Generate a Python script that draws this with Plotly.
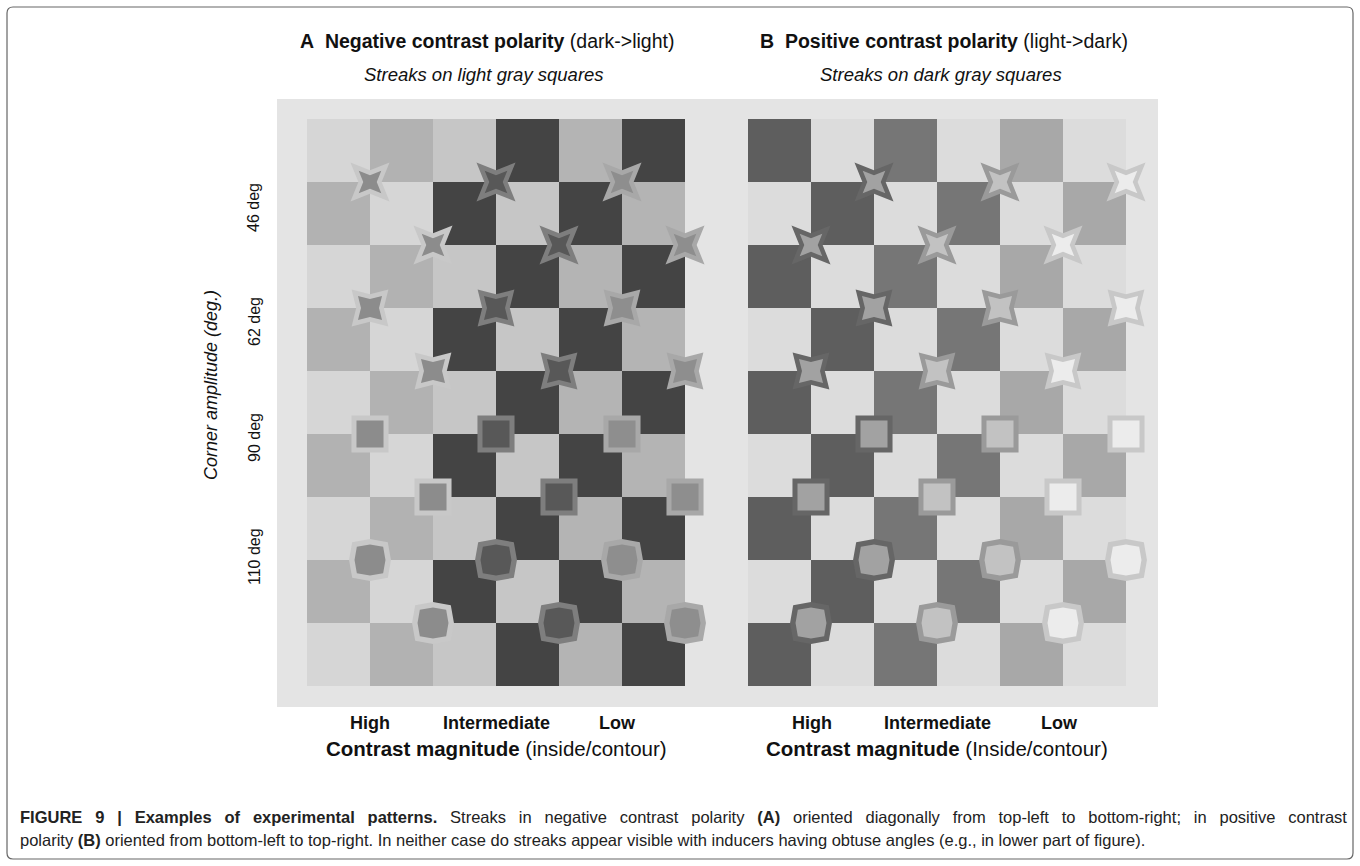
import math
import plotly.graph_objects as go

W, H = 1360, 866

# ---------------- data ----------------
n_rows = 9
n_cols = 6
pair_labels = ["High", "Intermediate", "Low"]
corner_deg_labels = ["46 deg", "62 deg", "90 deg", "110 deg"]

# Board gray levels per contrast pair (cols 2k, 2k+1)
A_even = [214, 198, 180]     # squares where (row+col) even
A_odd = [178, 68, 68]
B_even = [94, 118, 168]
B_odd = [220, 220, 220]

# Inducer (marker) gray levels per pair
A_outer = [200, 126, 168]
A_inner = [140, 88, 142]
B_outer = [102, 154, 200]
B_inner = [162, 194, 236]

# Corner amplitude of inducers per boundary row 1..8
row_corner = [46, 46, 62, 62, 90, 90, 110, 110]
# column-edge positions of inducers (odd boundary rows / even boundary rows)
A_edges_odd = [1, 3, 5]
A_edges_even = [2, 4, 6]
B_edges_odd = [2, 4, 6]
B_edges_even = [1, 3, 5]

caption_line1 = ("<b>FIGURE 9 | Examples of experimental patterns.</b> Streaks in negative contrast polarity "
                 "<b>(A)</b> oriented diagonally from top-left to bottom-right; in positive contrast")
caption_line2 = ("polarity <b>(B)</b> oriented from bottom-left to top-right. In neither case do streaks appear "
                 "visible with inducers having obtuse angles (e.g., in lower part of figure).")

# ---------------- geometry / style ----------------
CELL = 63.0          # px per data unit
X0_PX = 307          # left edge of board A (px)
Y0_PX = 119          # top edge of boards (px)
BOX = (277, 99, 1158, 707)  # outer gray box px
B_OFFSET = 7         # board B starts 7 cells right of A
# outer tip radius, inner tip radius (px) per corner amplitude
SIZES = {46: (27.6, 16.0), 62: (26.0, 17.0), 90: (26.2, 19.1), 110: (25.2, 18.6)}


def gray(v):
    return "rgb(%d,%d,%d)" % (v, v, v)


def board(even, odd):
    z = []
    for r in range(n_rows):
        row = []
        for c in range(n_cols):
            p = c // 2
            row.append(even[p] if (r + c) % 2 == 0 else odd[p])
        z.append(row)
    return z


def polygon(cx, cy, R_px, alpha):
    t = math.tan(math.radians(alpha) / 2)
    r_px = t * R_px / (math.sqrt(0.5) * (1 + t))
    xs, ys = [], []
    for k in range(4):
        a_tip = math.radians(45 + 90 * k)
        a_in = math.radians(90 + 90 * k)
        xs += [cx + R_px * math.cos(a_tip) / CELL, cx + r_px * math.cos(a_in) / CELL]
        ys += [cy + R_px * math.sin(a_tip) / CELL, cy + r_px * math.sin(a_in) / CELL]
    xs.append(xs[0]); ys.append(ys[0])
    return xs, ys


fig = go.Figure()

xcent = [c + 0.5 for c in range(n_cols)]
ycent = [r + 0.5 for r in range(n_rows)]
for z, off in ((board(A_even, A_odd), 0), (board(B_even, B_odd), B_OFFSET)):
    fig.add_trace(go.Heatmap(
        z=z, x=[x + off for x in xcent], y=ycent,
        colorscale=[[0, "rgb(0,0,0)"], [1, "rgb(255,255,255)"]],
        zmin=0, zmax=255, showscale=False, hoverinfo="skip"))

panels = [
    (0, A_edges_odd, A_edges_even, A_outer, A_inner),
    (B_OFFSET, B_edges_odd, B_edges_even, B_outer, B_inner),
]
for off, e_odd, e_even, outer, inner in panels:
    for layer in (0, 1):
        cols = outer if layer == 0 else inner
        for p in range(3):
            xs_all, ys_all = [], []
            for b, ang in enumerate(row_corner, start=1):
                ex = (e_odd if b % 2 == 1 else e_even)[p] + off
                R = SIZES[ang][layer]
                xs, ys = polygon(ex, b, R, ang)
                xs_all += xs + [None]
                ys_all += ys + [None]
            fig.add_trace(go.Scatter(
                x=xs_all, y=ys_all, mode="lines", fill="toself",
                fillcolor=gray(cols[p]), line=dict(width=0, color=gray(cols[p])),
                hoverinfo="skip", showlegend=False))

# axis ranges derived from the pixel layout of the box
x_lo = (BOX[0] - X0_PX) / CELL
x_hi = (BOX[2] - X0_PX) / CELL
y_lo = (BOX[1] - Y0_PX) / CELL
y_hi = (BOX[3] - Y0_PX) / CELL

fig.update_layout(
    width=W, height=H, margin=dict(l=0, r=0, t=0, b=0),
    paper_bgcolor="white", plot_bgcolor=gray(228), showlegend=False,
    xaxis=dict(domain=[BOX[0] / W, BOX[2] / W], range=[x_lo, x_hi], visible=False, fixedrange=True),
    yaxis=dict(domain=[1 - BOX[3] / H, 1 - BOX[1] / H], range=[y_hi, y_lo], visible=False, fixedrange=True),
)

FONT = "Liberation Sans, Arial, sans-serif"


def ann(text, x, y, size, xanchor="center", angle=0, family=FONT, color="#111"):
    fig.add_annotation(text=text, x=x / W, y=1 - y / H, xref="paper", yref="paper",
                       showarrow=False, xanchor=xanchor, yanchor="middle", textangle=angle,
                       font=dict(family=family, size=size, color=color))


ann("<b>A</b>\u00a0\u00a0<b>Negative contrast polarity</b> (dark-&gt;light)", 298, 41, 19.5, xanchor="left")
ann("<b>B</b>\u00a0\u00a0<b>Positive contrast polarity</b> (light-&gt;dark)", 758, 41, 19.5, xanchor="left")
ann("<i>Streaks on light gray squares</i>", 484, 74, 18.5)
ann("<i>Streaks on dark gray squares</i>", 941, 74, 18.5)

for lbl, yy in zip(corner_deg_labels, [208, 322, 438, 557]):
    ann(lbl, 254, yy, 16, angle=-90)
ann("<i>Corner amplitude (deg.)</i>", 211, 385, 18, angle=-90)

for lbl, xa, xb in zip(pair_labels, [370, 496, 617], [812, 937, 1059]):
    ann("<b>%s</b>" % lbl, xa, 723, 18)
    ann("<b>%s</b>" % lbl, xb, 723, 18)
ann("<b>Contrast magnitude</b> (inside/contour)", 497, 748, 20.5)
ann("<b>Contrast magnitude</b> (Inside/contour)", 937, 748, 20.5)

# first caption line is justified in the reference: widen the word gaps
ann(caption_line1.replace(" ", " \u2002").replace("<b \u2002", "<b ").replace("</b \u2002", "</b "),
    18, 817, 16.5, xanchor="left", color="#222")
ann(caption_line2, 18, 840, 16.5, xanchor="left", color="#222")

# rounded frame around the whole figure (paper coords)
l, t, r, b, rad = 7, 7, 1353, 859, 6
def P(x, y):
    return "%.5f,%.5f" % (x / W, 1 - y / H)
path = ("M" + P(l + rad, t) + " L" + P(r - rad, t) + " Q" + P(r, t) + " " + P(r, t + rad) +
        " L" + P(r, b - rad) + " Q" + P(r, b) + " " + P(r - rad, b) +
        " L" + P(l + rad, b) + " Q" + P(l, b) + " " + P(l, b - rad) +
        " L" + P(l, t + rad) + " Q" + P(l, t) + " " + P(l + rad, t) + " Z")
fig.add_shape(type="path", path=path, xref="paper", yref="paper",
              line=dict(color="#666", width=1.2), fillcolor="rgba(0,0,0,0)", layer="below")

fig.write_html("out.html", config={"displayModeBar": False},
               post_script="document.body.style.margin='0px';document.body.style.overflow='hidden';")
